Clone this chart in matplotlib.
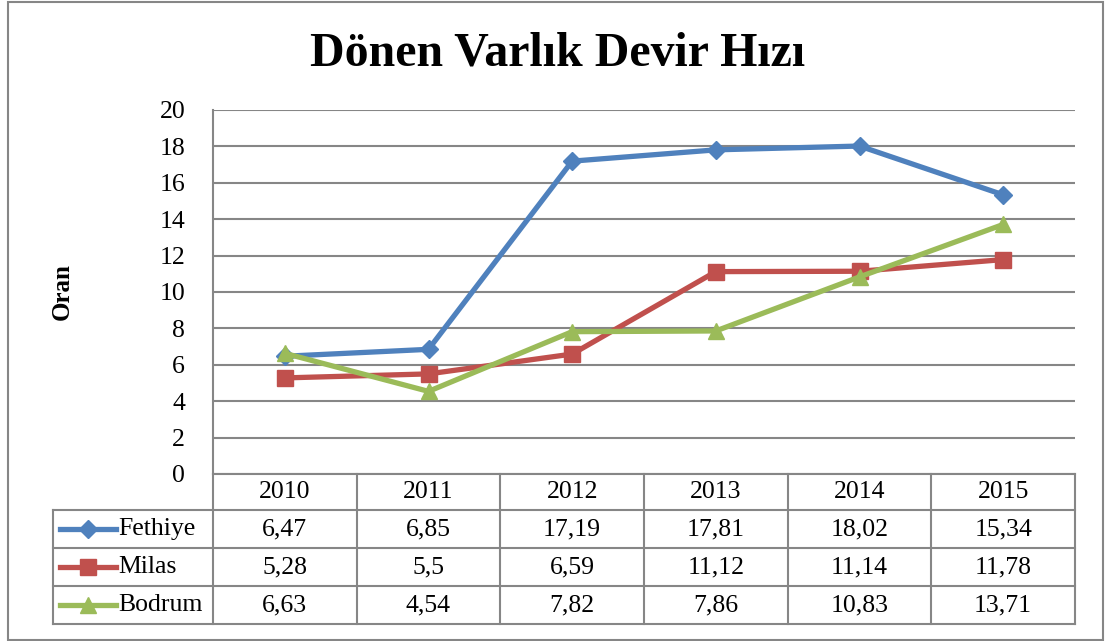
import matplotlib
matplotlib.use('Agg')
import matplotlib.pyplot as plt
import matplotlib.transforms as mtransforms
from matplotlib.patches import Rectangle

years = ['2010', '2011', '2012', '2013', '2014', '2015']
fethiye = [6.47, 6.85, 17.19, 17.81, 18.02, 15.34]
milas = [5.28, 5.5, 6.59, 11.12, 11.14, 11.78]
bodrum = [6.63, 4.54, 7.82, 7.86, 10.83, 13.71]
names = ['Fethiye', 'Milas', 'Bodrum']
colors = ['#4F81BD', '#C0504D', '#9BBB59']
markers = ['D', 's', '^']

plt.rcParams['font.family'] = ['Liberation Serif', 'DejaVu Serif']

fig = plt.figure(figsize=(11.05, 6.41), dpi=100)
ax = fig.add_axes([213 / 1105, 1 - 474 / 641, 862 / 1105, 364 / 641])

x = list(range(len(years)))
series = [fethiye, milas, bodrum]
for vals, c, m in zip(series, colors, markers):
    ax.plot(x, vals, color=c, lw=3.8, marker=m, markersize=11 if m != 'D' else 9,
            markeredgecolor=c, zorder=3)

ax.set_xlim(-0.5, 5.5)
ax.set_ylim(0, 20)
ax.set_yticks(range(0, 21, 2))
ax.set_xticks([])
ax.grid(axis='y', color='#868686', lw=1.5)
ax.tick_params(axis='y', length=0, labelsize=18.5, pad=20)
for s in ['top', 'right']:
    ax.spines[s].set_visible(False)
ax.spines['left'].set_color('#868686')
ax.spines['left'].set_linewidth(1.5)
ax.spines['bottom'].set_color('#868686')
ax.spines['bottom'].set_linewidth(1.5)
ax.set_ylabel('Oran', fontsize=18, fontweight='bold', labelpad=62)

# data table under the axis
tr = mtransforms.blended_transform_factory(ax.transData, ax.transAxes)
hdr = -36 / 364
rows = [hdr, -74 / 364, -112 / 364, -150 / 364]
left = -0.5 - 160 / (862 / 6)
lc = '#868686'
for k in range(7):
    ax.plot([k - 0.5, k - 0.5], [0, rows[-1]], transform=tr, color=lc, lw=1.5, clip_on=False)
ax.plot([left, left], [hdr, rows[-1]], transform=tr, color=lc, lw=1.5, clip_on=False)
for yv in rows:
    ax.plot([left, 5.5], [yv, yv], transform=tr, color=lc, lw=1.5, clip_on=False)

for i, yr in enumerate(years):
    ax.text(i, hdr / 2, yr, transform=tr, ha='center', va='center', fontsize=18.5)
for r, (vals, name, c, m) in enumerate(zip(series, names, colors, markers)):
    yc = (rows[r] + rows[r + 1]) / 2
    for i, v in enumerate(vals):
        ax.text(i, yc, f'{v:g}'.replace('.', ','), transform=tr, ha='center', va='center', fontsize=18.5)
    ax.plot([left + 0.05, left + 0.44], [yc, yc], transform=tr, color=c, lw=3.8, clip_on=False)
    ax.plot([left + 0.245], [yc], transform=tr, color=c, marker=m,
            markersize=11 if m != 'D' else 9, clip_on=False)
    ax.text(left + 0.455, yc, name, transform=tr, ha='left', va='center', fontsize=18.5)

fig.text(0.505, 1 - 54 / 641, 'Dönen Varlık Devir Hızı', ha='center', va='center',
         fontsize=34.5, fontweight='bold')
fig.patches.append(Rectangle((8 / 1105, 1 / 641), 1095 / 1105, 638 / 641, transform=fig.transFigure,
                             fill=False, edgecolor='#868686', lw=1.5))

fig.savefig('out.png', dpi=100)
